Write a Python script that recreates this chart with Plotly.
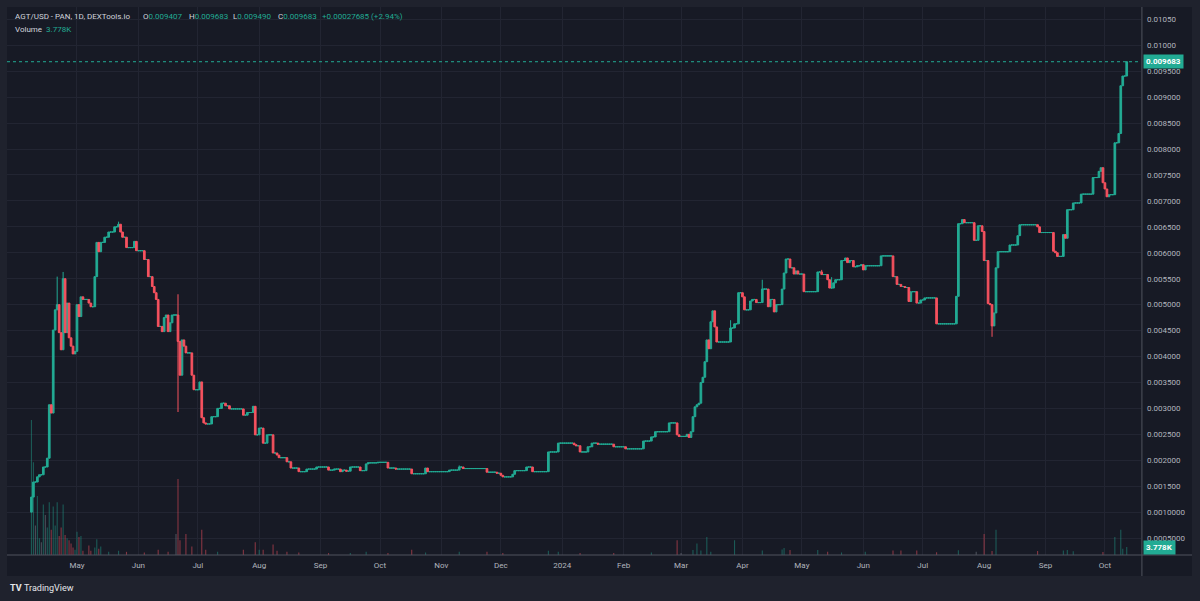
import numpy as np
import pandas as pd
import plotly.graph_objects as go

# ---------------- data ----------------
first_open = 0.00100
change_dates = [
    "2023-04-08", "2023-04-09", "2023-04-11", "2023-04-12", "2023-04-14", "2023-04-16", "2023-04-17",
    "2023-04-18", "2023-04-19", "2023-04-20", "2023-04-21", "2023-04-22", "2023-04-23", "2023-04-24",
    "2023-04-25", "2023-04-26", "2023-04-27", "2023-04-28", "2023-04-29", "2023-04-30", "2023-05-01",
    "2023-05-02", "2023-05-03", "2023-05-04", "2023-05-07", "2023-05-08", "2023-05-10", "2023-05-11",
    "2023-05-12", "2023-05-13", "2023-05-15", "2023-05-17", "2023-05-20", "2023-05-22", "2023-05-23",
    "2023-05-24", "2023-05-26", "2023-05-30", "2023-05-31", "2023-06-04", "2023-06-06", "2023-06-08",
    "2023-06-09", "2023-06-10", "2023-06-11", "2023-06-13", "2023-06-14", "2023-06-15", "2023-06-16",
    "2023-06-17", "2023-06-18", "2023-06-21", "2023-06-22", "2023-06-23", "2023-06-24", "2023-06-25",
    "2023-06-28", "2023-06-29", "2023-07-02", "2023-07-03", "2023-07-04", "2023-07-05", "2023-07-08",
    "2023-07-11", "2023-07-13", "2023-07-15", "2023-07-17", "2023-07-24", "2023-07-26", "2023-07-29",
    "2023-07-30", "2023-08-01", "2023-08-03", "2023-08-05", "2023-08-08", "2023-08-10", "2023-08-11",
    "2023-08-15", "2023-08-17", "2023-08-21", "2023-08-25", "2023-08-30", "2023-09-05", "2023-09-08",
    "2023-09-11", "2023-09-12", "2023-09-14", "2023-09-16", "2023-09-21", "2023-09-24", "2023-09-25",
    "2023-09-30", "2023-10-05", "2023-10-09", "2023-10-17", "2023-10-24", "2023-10-25", "2023-11-05",
    "2023-11-10", "2023-11-12", "2023-11-24", "2023-11-29", "2023-12-01", "2023-12-02", "2023-12-07",
    "2023-12-08", "2023-12-14", "2023-12-17", "2023-12-25", "2023-12-30", "2024-01-07", "2024-01-08",
    "2024-01-10", "2024-01-14", "2024-01-16", "2024-01-19", "2024-01-27", "2024-02-02", "2024-02-11",
    "2024-02-15", "2024-02-17", "2024-02-24", "2024-02-28", "2024-02-29", "2024-03-04", "2024-03-05",
    "2024-03-06", "2024-03-07", "2024-03-08", "2024-03-09", "2024-03-10", "2024-03-11", "2024-03-12",
    "2024-03-13", "2024-03-14", "2024-03-15", "2024-03-16", "2024-03-17", "2024-03-18", "2024-03-19",
    "2024-03-26", "2024-03-28", "2024-03-30", "2024-04-01", "2024-04-02", "2024-04-05", "2024-04-06",
    "2024-04-08", "2024-04-11", "2024-04-14", "2024-04-15", "2024-04-17", "2024-04-18", "2024-04-21",
    "2024-04-22", "2024-04-23", "2024-04-25", "2024-04-27", "2024-04-28", "2024-04-29", "2024-05-02",
    "2024-05-09", "2024-05-11", "2024-05-14", "2024-05-15", "2024-05-17", "2024-05-18", "2024-05-21",
    "2024-05-23", "2024-05-24", "2024-05-25", "2024-05-27", "2024-05-29", "2024-05-31", "2024-06-01",
    "2024-06-02", "2024-06-10", "2024-06-16", "2024-06-18", "2024-06-20", "2024-06-22", "2024-06-24",
    "2024-06-25", "2024-06-28", "2024-06-30", "2024-07-02", "2024-07-08", "2024-07-18", "2024-07-19",
    "2024-07-21", "2024-07-22", "2024-07-27", "2024-07-29", "2024-07-31", "2024-08-01", "2024-08-03",
    "2024-08-04", "2024-08-05", "2024-08-06", "2024-08-07", "2024-08-08", "2024-08-14", "2024-08-18",
    "2024-08-19", "2024-08-28", "2024-08-29", "2024-09-05", "2024-09-06", "2024-09-07", "2024-09-10",
    "2024-09-11", "2024-09-12", "2024-09-15", "2024-09-19", "2024-09-25", "2024-09-28", "2024-09-29",
    "2024-09-30", "2024-10-01", "2024-10-02", "2024-10-03", "2024-10-06", "2024-10-08", "2024-10-09",
    "2024-10-10", "2024-10-12",
]
change_closes = [
    0.00129, 0.00158, 0.00168, 0.00172, 0.00187, 0.00204, 0.00307,
    0.00291, 0.00451, 0.00490, 0.00500, 0.00446, 0.00413, 0.00550,
    0.00446, 0.00503, 0.00436, 0.00420, 0.00405, 0.00410, 0.00500,
    0.00477, 0.00515, 0.00510, 0.00503, 0.00496, 0.00554, 0.00620,
    0.00602, 0.00620, 0.00630, 0.00640, 0.00650, 0.00655, 0.00640,
    0.00630, 0.00610, 0.00622, 0.00604, 0.00587, 0.00554, 0.00535,
    0.00523, 0.00510, 0.00458, 0.00448, 0.00475, 0.00480, 0.00448,
    0.00465, 0.00480, 0.00429, 0.00364, 0.00432, 0.00420, 0.00407,
    0.00364, 0.00336, 0.00351, 0.00282, 0.00272, 0.00270, 0.00284,
    0.00300, 0.00310, 0.00305, 0.00299, 0.00287, 0.00292, 0.00304,
    0.00249, 0.00262, 0.00233, 0.00249, 0.00214, 0.00210, 0.00205,
    0.00197, 0.00185, 0.00178, 0.00183, 0.00187, 0.00181, 0.00183,
    0.00178, 0.00181, 0.00179, 0.00187, 0.00180, 0.00193, 0.00195,
    0.00196, 0.00185, 0.00183, 0.00174, 0.00185, 0.00178, 0.00181,
    0.00187, 0.00184, 0.00177, 0.00175, 0.00171, 0.00168, 0.00173,
    0.00180, 0.00187, 0.00178, 0.00216, 0.00233, 0.00230, 0.00228,
    0.00216, 0.00226, 0.00233, 0.00231, 0.00226, 0.00222, 0.00237,
    0.00245, 0.00255, 0.00272, 0.00249, 0.00246, 0.00250, 0.00244,
    0.00255, 0.00284, 0.00303, 0.00307, 0.00310, 0.00350, 0.00360,
    0.00390, 0.00432, 0.00415, 0.00467, 0.00488, 0.00457, 0.00428,
    0.00455, 0.00463, 0.00523, 0.00515, 0.00490, 0.00507, 0.00510,
    0.00504, 0.00530, 0.00496, 0.00510, 0.00486, 0.00500, 0.00530,
    0.00561, 0.00588, 0.00571, 0.00559, 0.00565, 0.00559, 0.00525,
    0.00563, 0.00558, 0.00548, 0.00532, 0.00542, 0.00548, 0.00585,
    0.00590, 0.00581, 0.00585, 0.00573, 0.00575, 0.00577, 0.00567,
    0.00575, 0.00594, 0.00554, 0.00539, 0.00535, 0.00533, 0.00506,
    0.00525, 0.00503, 0.00509, 0.00513, 0.00463, 0.00516, 0.00656,
    0.00664, 0.00658, 0.00624, 0.00652, 0.00641, 0.00585, 0.00502,
    0.00500, 0.00459, 0.00484, 0.00571, 0.00602, 0.00615, 0.00633,
    0.00654, 0.00650, 0.00639, 0.00603, 0.00600, 0.00593, 0.00635,
    0.00628, 0.00683, 0.00696, 0.00713, 0.00745, 0.00757, 0.00764,
    0.00735, 0.00723, 0.00708, 0.00712, 0.00812, 0.00830, 0.00922,
    0.009407, 0.009683,
]
wick_high_dates = ["2023-04-21", "2023-04-24", "2023-05-22", "2023-06-21", "2023-11-10",
                   "2024-03-26", "2024-04-11", "2024-05-11", "2024-05-16"]
wick_high_values = [0.00554, 0.00563, 0.00660, 0.00520, 0.00190,
                    0.00470, 0.00548, 0.00567, 0.00553]
wick_low_dates = ["2023-04-08", "2023-06-21", "2024-08-05", "2024-08-06"]
wick_low_values = [0.00100, 0.00293, 0.00438, 0.00472]

vol_dates = [
    "2023-04-08", "2023-04-09", "2023-04-10", "2023-04-11", "2023-04-12", "2023-04-13", "2023-04-14",
    "2023-04-15", "2023-04-16", "2023-04-17", "2023-04-18", "2023-04-19", "2023-04-20", "2023-04-21",
    "2023-04-22", "2023-04-23", "2023-04-24", "2023-04-25", "2023-04-26", "2023-04-27", "2023-04-28",
    "2023-04-29", "2023-04-30", "2023-05-01", "2023-05-02", "2023-05-03", "2023-05-04", "2023-05-07",
    "2023-05-08", "2023-05-10", "2023-05-11", "2023-05-12", "2023-05-13", "2023-05-17", "2023-05-22",
    "2023-05-26", "2023-06-04", "2023-06-11", "2023-06-16", "2023-06-20", "2023-06-21", "2023-06-22",
    "2023-06-25", "2023-06-28", "2023-07-03", "2023-07-05", "2023-07-11", "2023-07-24", "2023-07-30",
    "2023-08-01", "2023-08-03", "2023-08-08", "2023-08-10", "2023-08-15", "2023-08-21", "2023-09-05",
    "2023-09-16", "2023-09-24", "2023-10-05", "2023-10-17", "2023-10-24", "2023-11-10", "2023-11-24",
    "2023-12-02", "2023-12-25", "2023-12-30", "2024-01-10", "2024-01-27", "2024-02-15", "2024-02-28",
    "2024-03-01", "2024-03-07", "2024-03-09", "2024-03-11", "2024-03-14", "2024-03-16", "2024-03-28",
    "2024-04-11", "2024-04-21", "2024-04-22", "2024-04-25", "2024-05-09", "2024-05-14", "2024-05-21",
    "2024-06-02", "2024-06-16", "2024-06-20", "2024-06-28", "2024-07-08", "2024-07-19", "2024-07-28",
    "2024-08-01", "2024-08-05", "2024-08-07", "2024-08-28", "2024-09-10", "2024-09-12", "2024-09-15",
    "2024-09-30", "2024-10-06", "2024-10-09", "2024-10-10", "2024-10-12",
]
vol_values = [
    64000, 44000, 14000, 28000, 8000, 6000, 24000,
    19000, 13000, 25000, 12000, 23000, 14000, 25000,
    9000, 13000, 24000, 9500, 8000, 7000, 5500,
    3500, 2500, 11000, 8500, 9000, 2000, 4500,
    2000, 3500, 7500, 3000, 4000, 1500, 2000,
    1500, 1200, 2500, 1500, 10000, 36000, 7000,
    10000, 4000, 12000, 2500, 1500, 2500, 6000,
    2500, 2500, 5000, 2000, 1500, 1200, 900,
    1000, 1500, 1000, 2500, 1200, 1500, 1500,
    1000, 2000, 1500, 1000, 900, 1200, 7000,
    900, 2400, 5400, 2100, 8500, 1500, 7000,
    2100, 2600, 3300, 2400, 2400, 1500, 1200,
    1600, 2100, 2100, 2100, 1300, 2300, 1500,
    10000, 1900, 12000, 1900, 2100, 2400, 1800,
    1400, 8500, 12000, 3000, 3778,
]

price_ticks = [0.0005, 0.0010, 0.0015, 0.0020, 0.0025, 0.0030, 0.0035, 0.0040, 0.0045, 0.0050, 0.0055,
               0.0060, 0.0065, 0.0070, 0.0075, 0.0080, 0.0085, 0.0090, 0.0095, 0.0100, 0.0105]
price_tick_labels = ["0.0005000", "0.0010000", "0.001500", "0.002000", "0.002500", "0.003000", "0.003500",
                     "0.004000", "0.004500", "0.005000", "0.005500", "0.006000", "0.006500", "0.007000",
                     "0.007500", "0.008000", "0.008500", "0.009000", "0.009500", "0.01000", "0.01050"]
month_ticks = ["2023-05-01", "2023-06-01", "2023-07-01", "2023-08-01", "2023-09-01", "2023-10-01",
               "2023-11-01", "2023-12-01", "2024-01-01", "2024-02-01", "2024-03-01", "2024-04-01",
               "2024-05-01", "2024-06-01", "2024-07-01", "2024-08-01", "2024-09-01", "2024-10-01"]
month_labels = ["May", "Jun", "Jul", "Aug", "Sep", "Oct", "Nov", "Dec", "2024", "Feb", "Mar", "Apr",
                "May", "Jun", "Jul", "Aug", "Sep", "Oct"]

header_title = "AGT/USD - PAN, 1D, DEXTools.io"
header_ohlc = [("O", "0.009407"), ("H", "0.009683"), ("L", "0.009490"), ("C", "0.009683")]
header_change = "+0.00027685 (+2.94%)"
volume_label = "Volume"
last_volume_text = "3.778K"
last_price_text = "0.009683"
last_price = 0.009683
last_volume = 3778

# ---------------- build daily OHLCV ----------------
days = pd.date_range(change_dates[0], change_dates[-1], freq="D")
close = pd.Series(change_closes, index=pd.to_datetime(change_dates)).reindex(days).ffill()
open_ = close.shift(1)
open_.iloc[0] = first_open
high = np.maximum(open_, close)
low = np.minimum(open_, close)
for d, v in zip(wick_high_dates, wick_high_values):
    high[pd.Timestamp(d)] = max(high[pd.Timestamp(d)], v)
for d, v in zip(wick_low_dates, wick_low_values):
    low[pd.Timestamp(d)] = min(low[pd.Timestamp(d)], v)
vol = pd.Series(vol_values, index=pd.to_datetime(vol_dates)).reindex(days).fillna(0)

UP = "#22ab94"
DOWN = "#f7525f"
PLOT_BG = "#171a25"
OUTER_BG = "#1f222d"
GRID = "#222532"
TXT = "#b2b5be"
HDR = "#d1d4dc"
FONT = "Roboto"

up_mask = close >= open_
dn_mask = ~up_mask

vcolors = []
for o, c in zip(open_, close):
    if c > o:
        vcolors.append("rgba(34,171,148,0.45)")
    elif c < o:
        vcolors.append("rgba(247,82,95,0.5)")
    else:
        vcolors.append("rgba(120,123,134,0.55)")

fig = go.Figure()
fig.add_trace(go.Bar(x=days, y=vol, marker=dict(color=vcolors, line=dict(width=0)), yaxis="y2",
                     showlegend=False, hoverinfo="skip"))


def candle(mask, color):
    return go.Candlestick(
        x=days[mask], open=open_[mask], high=high[mask], low=low[mask], close=close[mask],
        increasing=dict(line=dict(color=color, width=1), fillcolor=color),
        decreasing=dict(line=dict(color=color, width=1), fillcolor=color),
        whiskerwidth=0, showlegend=False, hoverinfo="skip")


fig.add_trace(candle(up_mask.values, UP))
fig.add_trace(candle(dn_mask.values, DOWN))

# ---------------- layout ----------------
W, H = 1200, 601
L, R, T, B = 7, 1141, 7, 555
PW, PH = R - L, B - T


def px_x(x):
    return (x - L) / PW


def px_y(y):
    return (B - y) / PH


fig.update_layout(
    width=W, height=H,
    margin=dict(l=L, r=W - R, t=T, b=H - B),
    paper_bgcolor=OUTER_BG, plot_bgcolor=PLOT_BG,
    font=dict(family=FONT, size=8, color=TXT),
    bargap=0.45, boxgap=0.15, boxgroupgap=0,
    xaxis=dict(
        range=["2023-03-26 16:00", "2024-10-19 05:00"],
        tickvals=month_ticks, ticktext=month_labels,
        showgrid=True, gridcolor=GRID, gridwidth=1, zeroline=False,
        ticks="", ticklabelstandoff=4, rangeslider=dict(visible=False),
        showline=False, tickfont=dict(size=8, color=TXT),
    ),
    yaxis=dict(
        range=[0.0001735, 0.010738], side="right",
        tickvals=price_ticks, ticktext=price_tick_labels,
        showgrid=True, gridcolor=GRID, gridwidth=1, zeroline=False,
        ticks="", ticklabelstandoff=5, showline=False, tickfont=dict(size=8, color=TXT),
    ),
    yaxis2=dict(range=[0, 260000], overlaying="y", visible=False, showgrid=False),
    hovermode=False,
)

shapes = [
    # dark chart panel (plot + axes)
    dict(type="rect", xref="paper", yref="paper", x0=0, x1=px_x(1192), y0=px_y(576), y1=1,
         fillcolor=PLOT_BG, line=dict(width=0), layer="below"),
    # axis separator lines
    dict(type="line", xref="paper", yref="paper", x0=1.0008, x1=1.0008, y0=px_y(576), y1=1,
         line=dict(color="#50535e", width=1)),
    dict(type="line", xref="paper", yref="paper", x0=0, x1=px_x(1192), y0=0, y1=0,
         line=dict(color="#50535e", width=1)),
    # last price dotted line
    dict(type="line", xref="paper", yref="y", x0=0, x1=1, y0=last_price, y1=last_price,
         line=dict(color=UP, width=1, dash="dot")),
]
fig.update_layout(shapes=shapes)

ann = []
# header line 1
ann.append(dict(x=px_x(13), y=px_y(16.5), xref="paper", yref="paper", xanchor="left", yanchor="middle",
                text=header_title, showarrow=False, font=dict(size=8, color=HDR, family=FONT)))
ohlc_x = [141, 186.5, 231, 275.5]
for (k, v), xx in zip(header_ohlc, ohlc_x):
    ann.append(dict(x=px_x(xx), y=px_y(16.5), xref="paper", yref="paper", xanchor="left",
                    yanchor="middle", showarrow=False, font=dict(size=8, color=HDR, family=FONT),
                    text=f"{k}<span style='color:{UP}'>{v}</span>"))
ann.append(dict(x=px_x(320), y=px_y(16.5), xref="paper", yref="paper", xanchor="left", yanchor="middle",
                text=header_change, showarrow=False, font=dict(size=8, color=UP, family=FONT)))
# header line 2
ann.append(dict(x=px_x(13), y=px_y(30), xref="paper", yref="paper", xanchor="left", yanchor="middle",
                text=f"{volume_label}<span style='color:{UP}'>&nbsp;&nbsp;{last_volume_text}</span>",
                showarrow=False, font=dict(size=8, color=HDR, family=FONT)))
# last price label
ann.append(dict(x=1.0015, y=last_price, xref="paper", yref="y", xanchor="left", yanchor="middle",
                text=f"<b>{last_price_text}</b>", showarrow=False, bgcolor=UP, borderpad=2,
                font=dict(size=8, color="#ffffff", family=FONT)))
# last volume label
ann.append(dict(x=1.0015, y=last_volume, xref="paper", yref="y2", xanchor="left", yanchor="middle",
                text=f"<b>{last_volume_text}</b>", showarrow=False, bgcolor=UP, borderpad=2,
                font=dict(size=8, color="#ffffff", family=FONT)))
# TradingView logo
ann.append(dict(x=px_x(8), y=px_y(588), xref="paper", yref="paper", xanchor="left", yanchor="middle",
                text="<b>TV</b>", showarrow=False, font=dict(size=9, color="#e6e7ea", family=FONT)))
ann.append(dict(x=px_x(22), y=px_y(588), xref="paper", yref="paper", xanchor="left", yanchor="middle",
                text="TradingView", showarrow=False, font=dict(size=9, color="#e6e7ea", family=FONT)))
fig.update_layout(annotations=ann)

fig.write_html("out.html")
